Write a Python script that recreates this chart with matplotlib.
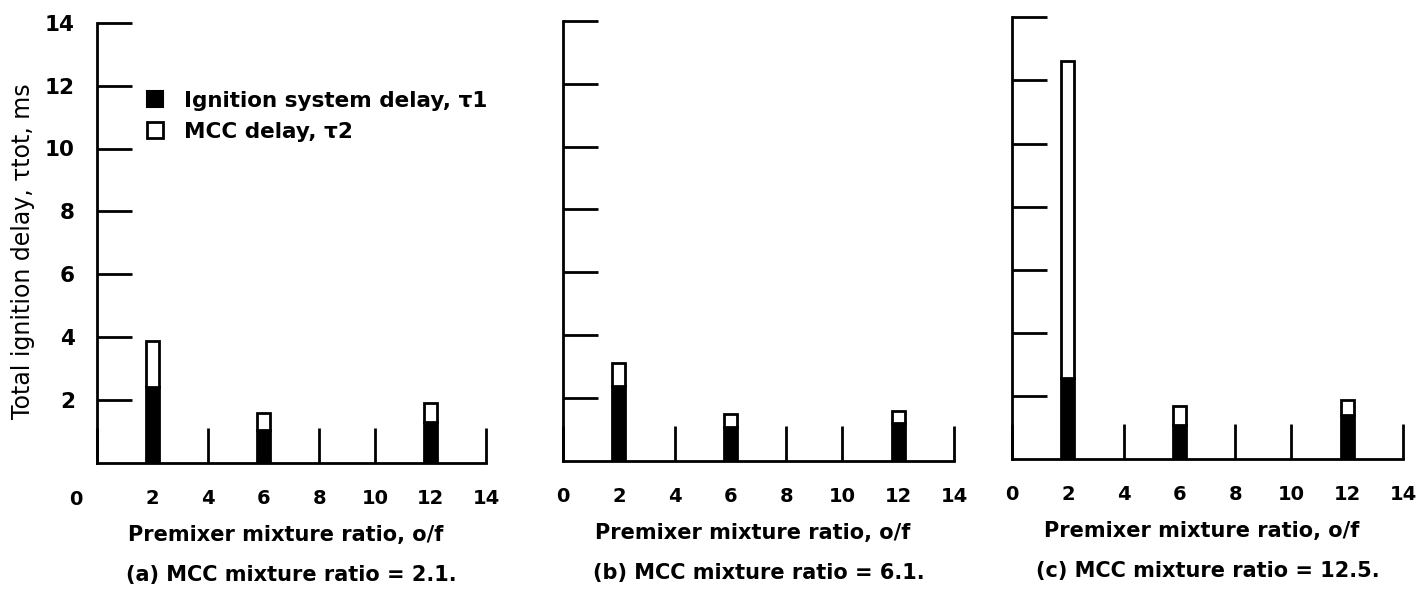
import matplotlib
matplotlib.use("Agg")
import matplotlib.pyplot as plt
from matplotlib.lines import Line2D

plt.rcParams['font.family'] = ['DejaVu Sans']

# ---- data ----
mixture_ratio = [2, 6, 12]
tau1_a = [2.43, 1.05, 1.31]
tau2_a = [1.46, 0.53, 0.59]
tau1_b = [2.37, 1.07, 1.20]
tau2_b = [0.76, 0.42, 0.39]
tau1_c = [2.58, 1.09, 1.39]
tau2_c = [10.05, 0.58, 0.47]
panel_captions = ["(a) MCC mixture ratio = 2.1.",
                  "(b) MCC mixture ratio = 6.1.",
                  "(c) MCC mixture ratio = 12.5."]
x_ticks = [0, 2, 4, 6, 8, 10, 12, 14]
y_ticks = [2, 4, 6, 8, 10, 12, 14]
x_label = "Premixer mixture ratio, o/f"
y_label = "Total ignition delay, \u03c4tot, ms"
legend_labels = ["Ignition system delay, \u03c41", "MCC delay, \u03c42"]

tau1_sets = [tau1_a, tau1_b, tau1_c]
tau2_sets = [tau2_a, tau2_b, tau2_c]

W, H = 1420, 593
fig = plt.figure(figsize=(W / 100, H / 100), dpi=100)

# axes boxes in pixels: left, right(x=14), top(y=14), bottom(y=0)
boxes = [(97, 486, 22.7, 463), (563, 954, 20.7, 461), (1012, 1403, 17.3, 459)]

lw = 2.0
for i, (l, r, t, b) in enumerate(boxes):
    ax = fig.add_axes([l / W, 1 - b / H, (r - l) / W, (b - t) / H])
    ax.set_xlim(0, 14)
    ax.set_ylim(0, 14)
    for s in ("top", "right"):
        ax.spines[s].set_visible(False)
    for s in ("left", "bottom"):
        ax.spines[s].set_linewidth(lw)
    ax.tick_params(direction="in", length=25.5, width=lw, color="black")
    ax.set_yticks(y_ticks)
    ax.set_xticks(x_ticks)
    if i == 0:
        ax.set_yticklabels([str(v) for v in y_ticks], fontsize=15.5, fontweight="bold")
        ax.set_xticklabels([""] + [str(v) for v in x_ticks[1:]], fontsize=14, fontweight="bold")
        ax.annotate("0", xy=(0, 0), xytext=(-21, -27), textcoords="offset pixels",
                    ha="center", va="top", fontsize=14, fontweight="bold")
        ax.set_ylabel(y_label, fontsize=17)
        ax.yaxis.set_label_coords(-0.159, 0.481)
    else:
        ax.set_yticklabels([])
        ax.set_xticklabels([str(v) for v in x_ticks], fontsize=14, fontweight="bold")
    ax.tick_params(axis="x", pad=19)
    ax.tick_params(axis="y", pad=16)

    ax.bar(mixture_ratio, tau1_sets[i], width=0.46, color="black",
           edgecolor="black", linewidth=lw, zorder=3)
    ax.bar(mixture_ratio, tau2_sets[i], width=0.46, bottom=tau1_sets[i],
           color="white", edgecolor="black", linewidth=lw, zorder=3)

    ax.set_xlabel(x_label, fontsize=15, fontweight="bold")
    ax.xaxis.set_label_coords(0.486, -0.14)
    ax.text(0.5, -0.254, panel_captions[i], transform=ax.transAxes,
            ha="center", va="center", fontsize=15, fontweight="bold")

    if i == 0:
        handles = [Line2D([], [], marker="s", ls="none", mfc="black", mec="black",
                          ms=11, mew=1.5),
                   Line2D([], [], marker="s", ls="none", mfc="white", mec="black",
                          ms=11, mew=2)]
        ax.legend(handles, legend_labels, loc="upper left",
                  bbox_to_anchor=(0.128, 0.846), frameon=False,
                  prop={"size": 15.5, "weight": "bold"}, handlelength=0.8,
                  handletextpad=0.95, labelspacing=0.52, borderpad=0,
                  borderaxespad=0)

fig.savefig("out.png", dpi=100, facecolor="white")
